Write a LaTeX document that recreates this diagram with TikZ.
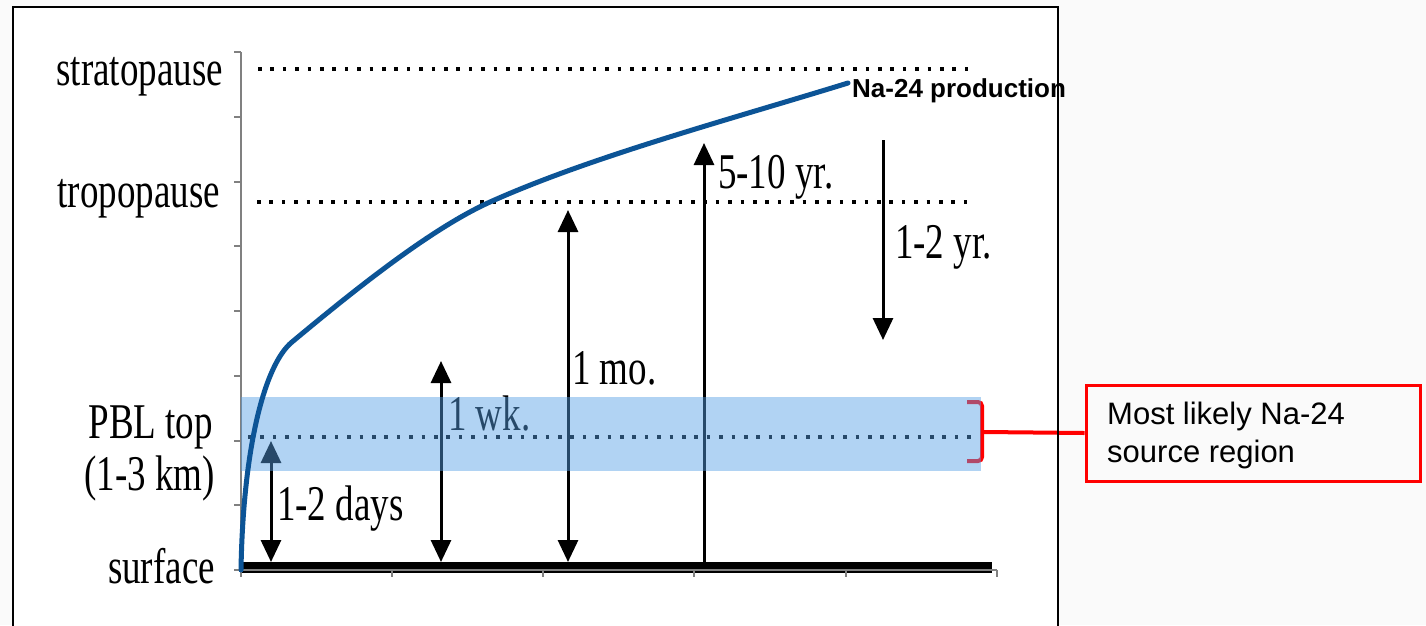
\documentclass[tikz,border=0pt]{standalone}
\usepackage{fontspec}
\setmainfont{Liberation Serif}
\newfontfamily\arialfont{Liberation Sans}
\usetikzlibrary{arrows.meta}
\definecolor{bgcol}{RGB}{250,250,250}
\definecolor{curveblue}{RGB}{12,84,150}
\definecolor{bandblue}{RGB}{85,160,230}
\definecolor{axisgray}{RGB}{128,128,128}
\begin{document}
\begin{tikzpicture}[x=1pt,y=-1pt,
  lvl/.style={font=\fontsize{50}{56}\selectfont, xscale=0.74, inner sep=0pt},
  dotline/.style={line width=3.5pt, dash pattern=on 3.5pt off 8.9pt},
  vline/.style={line width=3pt},
  bothtips/.style={{Triangle[width=20pt,length=22pt]}-{Triangle[width=20pt,length=22pt]}},
  endtip/.style={-{Triangle[width=20pt,length=22pt]}},
  axisline/.style={axisgray, line width=2pt},
  redline/.style={red, line width=4pt},
]
\useasboundingbox (0,0) rectangle (1426,625);
\fill[bgcol] (0,0) rectangle (1426,625);
\fill[white] (13,7) rectangle (1058,630);

% dotted level lines
\coordinate (s1) at (258,69); \coordinate (s2) at (970,69);
\coordinate (t1) at (257,202); \coordinate (t2) at (970,202);
\coordinate (p1) at (248,437); \coordinate (p2) at (975,437);
\draw[dotline] (s1) -- (s2);
\draw[dotline] (t1) -- (t2);
\draw[dotline] (p1) -- (p2);

% surface thick line
\coordinate (g1) at (242,567.5); \coordinate (g2) at (992,567.5);
\draw[line width=11pt] (g1) -- (g2);

% axes
\coordinate (o) at (241,570);
\coordinate (ytop) at (241,52);
\coordinate (xend) at (997,570);
\draw[axisline] (ytop) -- (o) -- (xend);
\foreach \yy in {52,116.75,181.5,246.25,311,375.75,440.5,505.25,570}
  \draw[axisline] (234,\yy) -- (241,\yy);
\foreach \xx in {241,392,543,694,846,997}
  \draw[axisline] (\xx,570) -- (\xx,577);

% arrows
\coordinate (a1b) at (271,562); \coordinate (a1t) at (271,441);
\coordinate (a2b) at (441,562); \coordinate (a2t) at (441,361);
\coordinate (a3b) at (568,562); \coordinate (a3t) at (568,210);
\coordinate (a4b) at (704,563); \coordinate (a4t) at (704,143);
\coordinate (a5t) at (883,140); \coordinate (a5b) at (883,340);
\draw[vline,bothtips] (a1b) -- (a1t);
\draw[vline,bothtips] (a2b) -- (a2t);
\draw[vline,bothtips] (a3b) -- (a3t);
\draw[vline,endtip] (a4b) -- (a4t);
\draw[vline,endtip] (a5t) -- (a5b);

% level labels
\node[lvl, anchor=base east] (lstrat) at (223,85) {stratopause};
\node[lvl, anchor=base east] (ltrop) at (220,207) {tropopause};
\node[lvl, anchor=base east] (lpbl) at (213,438) {PBL top};
\node[lvl, anchor=base east] (lkm) at (215,490) {(1-3 km)};
\node[lvl, anchor=base east] (lsurf) at (215,583) {surface};

% time labels
\node[lvl, anchor=base west] (t12d) at (277,520) {1-2 days};
\node[lvl, anchor=base west] (t1w) at (448,430) {1 wk.};
\node[lvl, anchor=base west] (t1m) at (572,384) {1 mo.};
\node[lvl, anchor=base west] (t510) at (718,188) {5-10 yr.};
\node[lvl, anchor=base west] (t12y) at (895,258) {1-2 yr.};

% bracket
\coordinate (brk) at (984,432);
\draw[redline, rounded corners=4pt] (967,402) -- (982,402) -- (982,461) -- (967,461);

% PBL band (translucent)
\fill[bandblue, fill opacity=0.46] (241,397) rectangle (981,471);

% Na-24 production curve
\coordinate (c0) at (241,570);
\coordinate (c1) at (292,342);
\coordinate (c2) at (490,202);
\coordinate (c3) at (848,83);
\draw[curveblue, line width=5pt, line cap=round]
  (c0) .. controls (243,450) and (264,365) .. (c1)
       .. controls (352,292) and (430,229) .. (c2)
       .. controls (590,157) and (728,120) .. (c3);
\node[font=\arialfont\bfseries\fontsize{26}{30}\selectfont, anchor=base west, inner sep=0pt] (prod) at (852,97) {Na-24 production};

% source region box
\node[draw=red, line width=3pt, minimum width=334pt, minimum height=96pt, text width=295pt,
      inner xsep=19.5pt, inner ysep=0pt, align=left,
      font=\arialfont\fontsize{31}{38}\selectfont] (src) at (1253,433) {};
\node[font=\arialfont\fontsize{31}{38}\selectfont, anchor=base west, inner sep=0pt] (srcl1) at (1107,424) {Most likely Na-24};
\node[font=\arialfont\fontsize{31}{38}\selectfont, anchor=base west, inner sep=0pt] (srcl2) at (1107,462) {source region};
\draw[redline] (brk) -- (src.west);

% frame border
\draw[line width=2pt] (13,630) -- (13,7) -- (1058,7) -- (1058,630);
\end{tikzpicture}
\end{document}
